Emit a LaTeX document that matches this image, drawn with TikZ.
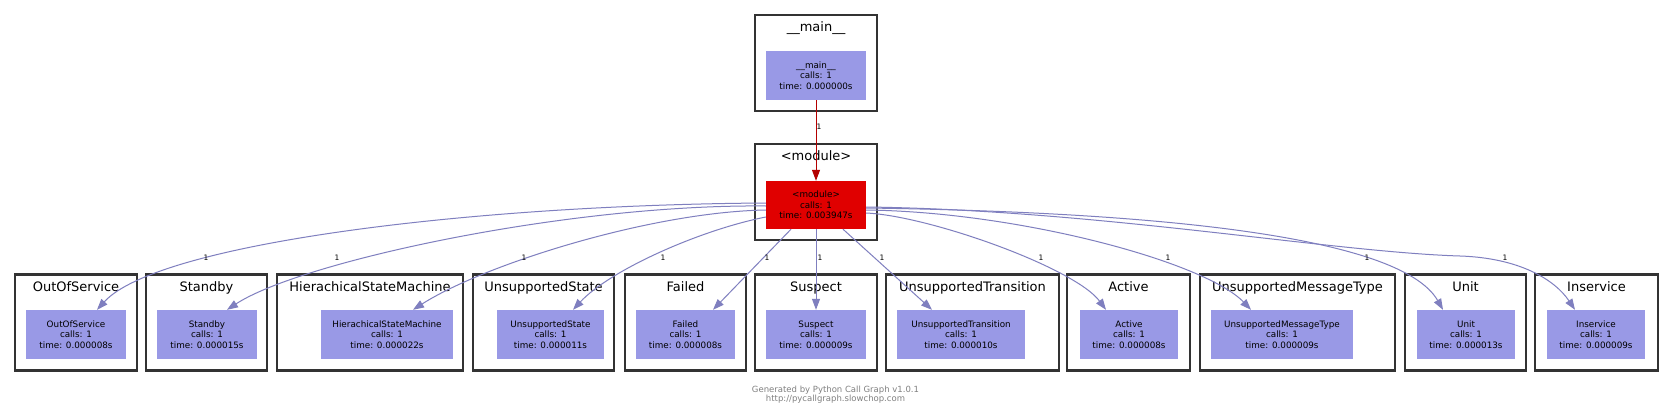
\documentclass[tikz,border=0pt]{standalone}
\usepackage{fontspec}
\setmainfont{DejaVu Sans}
\usepackage{xcolor}
\usepackage{tikz}
\usetikzlibrary{arrows.meta,positioning}
\definecolor{CallFill}{HTML}{9999E6}
\definecolor{CallHot}{HTML}{E00000}
\definecolor{CallEdge}{HTML}{7F7FBF}
\definecolor{CallRed}{HTML}{B40000}
\definecolor{GroupLine}{HTML}{333333}
\definecolor{CreditGray}{HTML}{808080}

\begin{document}
\begin{tikzpicture}[
  x=1pt, y=-1pt,
  group/.style={draw=GroupLine, line width=2.5pt, fill=white, minimum height=96pt, inner sep=0pt},
  gtitle/.style={font=\fontsize{13}{15}\selectfont, anchor=base, inner sep=0pt},
  call/.style={fill=CallFill, align=center, minimum width=100pt, minimum height=49pt, inner sep=0pt, font=\fontsize{8.8}{10.5}\selectfont},
  hot/.style={call, fill=CallHot},
  arr/.style={-{Triangle[length=11pt,width=8pt]}, draw=CallEdge, line width=1pt},
  hotarr/.style={arr, draw=CallRed},
  cnt/.style={font=\fontsize{7.5}{9}\selectfont, inner sep=0pt},
  credit/.style={font=\fontsize{8.5}{9.5}\selectfont, text=CreditGray, align=center, inner sep=0pt}
]
  \path[use as bounding box, fill=white] (0,0) rectangle (1672,417);

  % top: __main__ and <module>
  \node[group, minimum width=122pt] (maingrp) at (816,63) {};
  \node[gtitle] (maintitle) at (816,31.5) {\_\_main\_\_};
  \node[call] (main) at (816,75.5) {\_\_main\_\_\\calls: 1\\time: 0.000000s};

  \node[group, minimum width=122pt] (modgrp) at (816,192) {};
  \node[gtitle] (modtitle) at (816,160.5) {<module>};
  \node[hot, minimum height=48pt] (mod) at (816,205) {<module>\\calls: 1\\time: 0.003947s};

  % bottom row
  \node[group, minimum width=122pt] (oosgrp) at (76,322.5) {};
  \node[gtitle] (oostitle) at (76,291.5) {OutOfService};
  \node[call] (oos) at (76,334.5) {OutOfService\\calls: 1\\time: 0.000008s};

  \node[group, minimum width=121pt] (sbygrp) at (206.5,322.5) {};
  \node[gtitle] (sbytitle) at (206.5,291.5) {Standby};
  \node[call] (sby) at (207,334.5) {Standby\\calls: 1\\time: 0.000015s};

  \node[group, minimum width=186pt] (hsmgrp) at (370,322.5) {};
  \node[gtitle] (hsmtitle) at (370,291.5) {HierachicalStateMachine};
  \node[call, minimum width=132pt] (hsm) at (387,334.5) {HierachicalStateMachine\\calls: 1\\time: 0.000022s};

  \node[group, minimum width=141pt] (ustgrp) at (543.5,322.5) {};
  \node[gtitle] (usttitle) at (543.5,291.5) {UnsupportedState};
  \node[call, minimum width=107pt] (ust) at (550.5,334.5) {UnsupportedState\\calls: 1\\time: 0.000011s};

  \node[group, minimum width=121pt] (failgrp) at (685.5,322.5) {};
  \node[gtitle] (failtitle) at (685.5,291.5) {Failed};
  \node[call, minimum width=99pt] (fail) at (685.5,334.5) {Failed\\calls: 1\\time: 0.000008s};

  \node[group, minimum width=122pt] (suspgrp) at (816,322.5) {};
  \node[gtitle] (susptitle) at (816,291.5) {Suspect};
  \node[call] (susp) at (816,334.5) {Suspect\\calls: 1\\time: 0.000009s};

  \node[group, minimum width=173pt] (utrgrp) at (972.5,322.5) {};
  \node[gtitle] (utrtitle) at (972.5,291.5) {UnsupportedTransition};
  \node[call, minimum width=128pt] (utr) at (961,334.5) {UnsupportedTransition\\calls: 1\\time: 0.000010s};

  \node[group, minimum width=123pt] (actgrp) at (1128.5,322.5) {};
  \node[gtitle] (acttitle) at (1128.5,291.5) {Active};
  \node[call, minimum width=98pt] (act) at (1129,334.5) {Active\\calls: 1\\time: 0.000008s};

  \node[group, minimum width=195pt] (umtgrp) at (1297.5,322.5) {};
  \node[gtitle] (umttitle) at (1297.5,291.5) {UnsupportedMessageType};
  \node[call, minimum width=142pt] (umt) at (1282,334.5) {UnsupportedMessageType\\calls: 1\\time: 0.000009s};

  \node[group, minimum width=121pt] (unitgrp) at (1465.5,322.5) {};
  \node[gtitle] (unittitle) at (1465.5,291.5) {Unit};
  \node[call, minimum width=98pt] (unit) at (1466,334.5) {Unit\\calls: 1\\time: 0.000013s};

  \node[group, minimum width=123pt] (insvgrp) at (1596.5,322.5) {};
  \node[gtitle] (insvtitle) at (1596.5,291.5) {Inservice};
  \node[call, minimum width=98pt] (insv) at (1596,334.5) {Inservice\\calls: 1\\time: 0.000009s};

  % calls
  \draw[hotarr] (main) -- (mod);
  \node[cnt] (mainn) at (819,127) {1};

  \draw[arr] ([yshift=2pt]mod.west) .. controls (466,205) and (157,244) .. ([xshift=21pt]oos.north);
  \draw[arr] ([yshift=-1pt]mod.west) .. controls (566,204) and (300,262) .. ([xshift=20pt]sby.north);
  \draw[arr] ([yshift=-5pt]mod.west) .. controls (650,212) and (483,265) .. ([xshift=26pt]hsm.north);
  \draw[arr] ([yshift=-12pt]mod.west) .. controls (700,230) and (610,270) .. ([xshift=22.5pt]ust.north);
  \draw[arr] ([xshift=-25pt]mod.south) -- ([xshift=27.5pt]fail.north);
  \draw[arr] (mod) -- (susp);
  \draw[arr] ([xshift=27pt]mod.south) -- ([xshift=-29pt]utr.north);
  \draw[arr] ([yshift=-8pt]mod.east) .. controls (930,216) and (1075,268) .. ([xshift=-23pt]act.north);
  \draw[arr] ([yshift=-5pt]mod.east) .. controls (1020,212) and (1205,262) .. ([xshift=-31pt]umt.north);
  \draw[arr] ([yshift=-3pt]mod.east) .. controls (1150,212) and (1400,235) .. ([xshift=-23pt]unit.north);
  \draw[arr] ([yshift=-2pt]mod.east) .. controls (1100,210) and (1330,252) .. (1460,256)
    .. controls (1520,258) and (1555,280) .. ([xshift=-21pt]insv.north);

  \node[cnt] (oosn) at (206,258) {1};
  \node[cnt] (sbyn) at (337,258) {1};
  \node[cnt] (hsmn) at (524,258) {1};
  \node[cnt] (ustn) at (663,258) {1};
  \node[cnt] (failn) at (767,258) {1};
  \node[cnt] (suspn) at (820,258) {1};
  \node[cnt] (utrn) at (882,258) {1};
  \node[cnt] (actn) at (1041,258) {1};
  \node[cnt] (umtn) at (1168,258) {1};
  \node[cnt] (unitn) at (1367,258) {1};
  \node[cnt] (insvn) at (1505,258) {1};

  \node[credit] (footer) at (835.5,394.5) {Generated by Python Call Graph v1.0.1\\http://pycallgraph.slowchop.com};
\end{tikzpicture}
\end{document}
